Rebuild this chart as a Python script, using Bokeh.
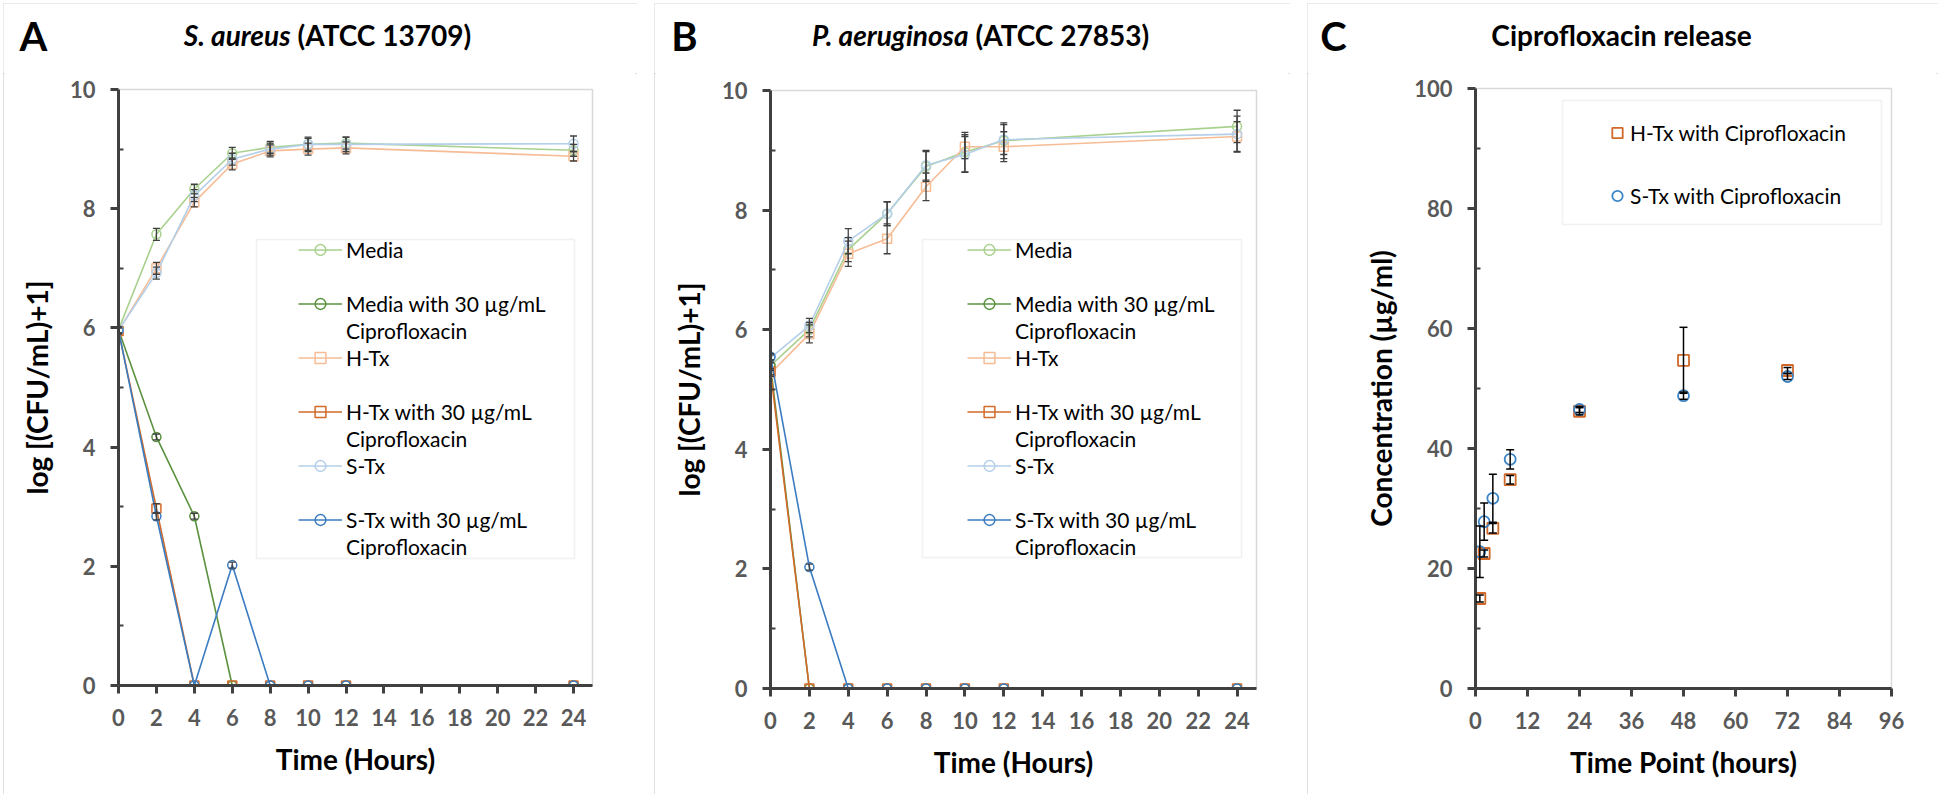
from bokeh.plotting import figure
from bokeh.models import (Range1d, FixedTicker, Legend, LegendItem, Whisker, TeeHead,
                          ColumnDataSource, BoxAnnotation, Label, InlineStyleSheet)
from bokeh.layouts import row, column
from bokeh.embed import file_html
from bokeh.resources import INLINE
from bokeh.core.properties import value

# ---------------- data ----------------
hours = [0, 2, 4, 6, 8, 10, 12, 24]
series_names = ["Media", "Media with 30 µg/mL Ciprofloxacin", "H-Tx",
                "H-Tx with 30 µg/mL Ciprofloxacin", "S-Tx",
                "S-Tx with 30 µg/mL Ciprofloxacin"]

# Panel A  S. aureus
a_media = [5.97, 7.57, 8.33, 8.93, 9.03, 9.08, 9.10, 8.98]
a_media_err = [0.05, 0.10, 0.08, 0.10, 0.10, 0.10, 0.10, 0.10]
a_media_c = [5.97, 4.17, 2.84, 0, 0, 0, 0, 0]
a_media_c_err = [0.05, 0.05, 0.05, 0, 0, 0, 0, 0]
a_htx = [5.95, 7.00, 8.11, 8.75, 8.97, 9.00, 9.02, 8.88]
a_htx_err = [0.05, 0.10, 0.08, 0.10, 0.10, 0.10, 0.10, 0.08]
a_htx_c = [5.95, 2.97, 0, 0, 0, 0, 0, 0]
a_htx_c_err = [0.05, 0.08, 0, 0, 0, 0, 0, 0]
a_stx = [5.96, 6.92, 8.22, 8.83, 9.00, 9.08, 9.08, 9.09]
a_stx_err = [0.05, 0.10, 0.10, 0.10, 0.10, 0.12, 0.12, 0.13]
a_stx_c = [5.96, 2.84, 0, 2.02, 0, 0, 0, 0]
a_stx_c_err = [0.05, 0.06, 0, 0.05, 0, 0, 0, 0]

# Panel B  P. aeruginosa
b_media = [5.40, 6.00, 7.34, 7.94, 8.73, 8.97, 9.16, 9.40]
b_media_err = [0.05, 0.12, 0.20, 0.20, 0.25, 0.33, 0.30, 0.27]
b_media_c = [5.40, 0, 0, 0, 0, 0, 0, 0]
b_media_c_err = [0.05, 0, 0, 0, 0, 0, 0, 0]
b_htx = [5.27, 5.93, 7.27, 7.52, 8.39, 9.06, 9.06, 9.23]
b_htx_err = [0.05, 0.15, 0.21, 0.25, 0.23, 0.20, 0.25, 0.25]
b_htx_c = [5.30, 0, 0, 0, 0, 0, 0, 0]
b_htx_c_err = [0.05, 0, 0, 0, 0, 0, 0, 0]
b_stx = [5.53, 6.07, 7.48, 7.94, 8.75, 8.93, 9.18, 9.27]
b_stx_err = [0.05, 0.12, 0.21, 0.20, 0.25, 0.30, 0.25, 0.30]
b_stx_c = [5.55, 2.03, 0, 0, 0, 0, 0, 0]
b_stx_c_err = [0.05, 0.05, 0, 0, 0, 0, 0, 0]

# Panel C  Ciprofloxacin release
c_time = [1, 2, 4, 8, 24, 48, 72]
c_htx = [15.0, 22.5, 26.7, 34.8, 46.2, 54.7, 53.0]
c_htx_err = [0.6, 0.6, 0.8, 0.7, 0.6, 5.5, 0.5]
c_stx = [22.8, 27.8, 31.7, 38.2, 46.5, 48.8, 52.0]
c_stx_err = [4.3, 3.1, 4.0, 1.6, 0.5, 0.6, 0.5]
c_names = ["H-Tx with Ciprofloxacin", "S-Tx with Ciprofloxacin"]

kill_ticks_x = [0, 2, 4, 6, 8, 10, 12, 14, 16, 18, 20, 22, 24]
kill_ticks_y = [0, 2, 4, 6, 8, 10]
kill_minor_y = [1, 3, 5, 7, 9]
rel_ticks_x = [0, 12, 24, 36, 48, 60, 72, 84, 96]
rel_ticks_y = [0, 20, 40, 60, 80, 100]
rel_minor_y = [10, 30, 50, 70, 90]

# ---------------- style ----------------
FONT = "Lato"
AX = "#404040"
TICKLAB = "#595959"
colors = ["#a9d18e", "#5b9240", "#f5bc95", "#d26b2a", "#b4cfe9", "#3b7cc0"]
markers = ["circle", "circle", "square", "square", "circle", "circle"]
FRAME_CSS = InlineStyleSheet(css=":host { outline: 2px solid #d6d6d6; outline-offset: -2px; }")
TITLE_H = 70
MAIN_H = 721


def style_axes(p, xt, yt, ymin):
    for ax in (p.xaxis[0], p.yaxis[0]):
        ax.axis_line_color = AX
        ax.axis_line_width = 3
        ax.major_tick_line_color = AX
        ax.major_tick_line_width = 3
        ax.major_tick_out = 8
        ax.major_tick_in = 0
        ax.minor_tick_line_color = AX
        ax.minor_tick_line_width = 2
        ax.minor_tick_in = 5
        ax.minor_tick_out = 0
        ax.major_label_text_font = FONT
        ax.major_label_text_font_style = "bold"
        ax.major_label_text_font_size = "22px"
        ax.major_label_text_color = TICKLAB
        ax.major_label_standoff = 15
        ax.axis_label_text_font = FONT
        ax.axis_label_text_font_style = "bold"
        ax.axis_label_text_font_size = "28px"
        ax.axis_label_text_color = "black"
        ax.axis_label_standoff = 13
    p.xaxis[0].ticker = FixedTicker(ticks=xt, minor_ticks=[])
    p.yaxis[0].ticker = FixedTicker(ticks=yt, minor_ticks=ymin)
    p.xgrid.visible = False
    p.ygrid.visible = False
    p.outline_line_color = "#d9d9d9"
    p.outline_line_width = 1.5


def make_fig(width, bl, br, bt, bb, xr, yr, xlabel, ylabel):
    p = figure(width=width, height=MAIN_H, output_backend="svg", toolbar_location=None,
               tools="", x_range=Range1d(*xr), y_range=Range1d(*yr),
               min_border_left=bl, min_border_right=br, min_border_top=bt,
               min_border_bottom=bb, x_axis_label=xlabel, y_axis_label=ylabel,
               background_fill_color="white", border_fill_color="white")
    p.frame_align = False
    return p


def title_fig(width, parts, letter):
    """parts: list of (x, text, style, align); letter: (x, text)"""
    t = figure(width=width, height=TITLE_H, output_backend="svg", toolbar_location=None,
               tools="", x_range=Range1d(0, width), y_range=Range1d(0, TITLE_H),
               x_axis_type=None, y_axis_type=None, min_border=0,
               background_fill_color="white", border_fill_color="white")
    t.frame_align = False
    t.outline_line_color = None
    t.xgrid.visible = False
    t.ygrid.visible = False
    for x, text, style, align in parts:
        t.add_layout(Label(x=x, y=39, text=text, text_font=FONT, text_font_size="28px",
                           text_font_style=style, text_align=align,
                           text_baseline="middle", text_color="black"))
    t.add_layout(Label(x=letter[0], y=38, text=letter[1], text_font=FONT,
                       text_font_size="40px", text_font_style="bold", text_align="center",
                       text_baseline="middle", text_color="black"))
    return t


def add_whisker(p, xs, ys, errs, color, lw, head):
    keep = [i for i, e in enumerate(errs) if e > 0]
    src = ColumnDataSource(dict(base=[xs[i] for i in keep],
                                upper=[ys[i] + errs[i] for i in keep],
                                lower=[ys[i] - errs[i] for i in keep]))
    w = Whisker(source=src, base="base", upper="upper", lower="lower",
                line_color=color, line_width=lw, level="annotation",
                upper_head=TeeHead(size=head, line_color=color, line_width=lw),
                lower_head=TeeHead(size=head, line_color=color, line_width=lw))
    p.add_layout(w)


def legend_box(p, box):
    p.add_layout(BoxAnnotation(left=box[0], right=box[1], bottom=box[2], top=box[3],
                               left_units="screen", right_units="screen",
                               bottom_units="screen", top_units="screen",
                               fill_color="white", fill_alpha=1, line_color="#d0d0d0",
                               line_width=1.5))


def kill_panel(width, bl, br, bt, bb, series, errs, leg_loc, box):
    p = make_fig(width, bl, br, bt, bb, (0, 25), (0, 10), "Time (Hours)",
                 "log [(CFU/mL)+1]")
    style_axes(p, kill_ticks_x, kill_ticks_y, kill_minor_y)
    rends = []
    for ys, col, mk, name in zip(series, colors, markers, series_names):
        ln = p.line(hours, ys, line_color=col, line_width=1.6)
        sc = p.scatter(hours, ys, marker=mk, size=9, fill_color="white", fill_alpha=0,
                       line_color=col, line_width=1.5)
        rends.append((ln, sc, name))
    for ys, e in zip(series, errs):
        add_whisker(p, hours, ys, e, "#404040", 1.3, 7)
    blank = p.line(x=[], y=[], line_alpha=0)
    items = []
    for ln, sc, name in rends:
        if " Ciprofloxacin" in name:
            first, second = name.replace(" Ciprofloxacin", ""), "Ciprofloxacin"
        else:
            first, second = name, " "
        items.append(LegendItem(label=value(first), renderers=[ln, sc]))
        items.append(LegendItem(label=value(second), renderers=[blank]))
    legend_box(p, box)
    leg = Legend(items=items, location=leg_loc, orientation="vertical", padding=0,
                 spacing=0, margin=0, glyph_width=44, glyph_height=27, label_height=27,
                 label_standoff=4, label_text_font=FONT, label_text_font_size="21px",
                 label_text_color="black", border_line_alpha=0, background_fill_alpha=0)
    p.add_layout(leg)
    return p


pA = kill_panel(634, 115, 45, 16, 109,
                [a_media, a_media_c, a_htx, a_htx_c, a_stx, a_stx_c],
                [a_media_err, a_media_c_err, a_htx_err, a_htx_c_err, a_stx_err, a_stx_c_err],
                (180, 125), (138, 456, 127, 446))
tA = title_fig(634, [(287, "S. aureus", "bold italic", "right"),
                     (294, "(ATCC 13709)", "bold", "left")], (30, "A"))

pB = kill_panel(636, 116, 34, 17, 106,
                [b_media, b_media_c, b_htx, b_htx_c, b_stx, b_stx_c],
                [b_media_err, b_media_c_err, b_htx_err, b_htx_c_err, b_stx_err, b_stx_c_err],
                (197, 128), (152, 471, 131, 449))
tB = title_fig(636, [(314, "P. aeruginosa", "bold italic", "right"),
                     (321, "(ATCC 27853)", "bold", "left")], (30, "B"))

# Panel C
pC = make_fig(631, 168, 47, 15, 106, (0, 96), (0, 100), "Time Point (hours)",
              "Concentration (µg/ml)")
style_axes(pC, rel_ticks_x, rel_ticks_y, rel_minor_y)
rc1 = pC.scatter(c_time, c_htx, marker="square", size=11, fill_alpha=0,
                 line_color="#d0692a", line_width=1.8)
rc2 = pC.scatter(c_time, c_stx, marker="circle", size=11, fill_alpha=0,
                 line_color="#3d85c6", line_width=1.8)
add_whisker(pC, c_time, c_htx, c_htx_err, "black", 1.5, 8)
add_whisker(pC, c_time, c_stx, c_stx_err, "black", 1.5, 8)
legend_box(pC, (87, 406, 464, 588))
legC = Legend(items=[LegendItem(label=value(c_names[0]), renderers=[rc1]),
                     LegendItem(label=value(c_names[1]), renderers=[rc2])],
              location=(129, 479), orientation="vertical", padding=0, spacing=36,
              margin=0, glyph_width=26, glyph_height=27, label_standoff=0,
              label_text_font=FONT, label_text_font_size="21px",
              label_text_color="black", border_line_alpha=0, background_fill_alpha=0)
pC.add_layout(legC)
tC = title_fig(631, [(314, "Ciprofloxacin release", "bold", "center")], (26, "C"))

panels = []
for t, p in ((tA, pA), (tB, pB), (tC, pC)):
    c = column(t, p, spacing=0)
    c.stylesheets = [FRAME_CSS]
    panels.append(c)

layout = row(*panels, spacing=17)
layout.margin = (3, 0, 0, 3)

open("out.html", "w").write(file_html(layout, INLINE))
